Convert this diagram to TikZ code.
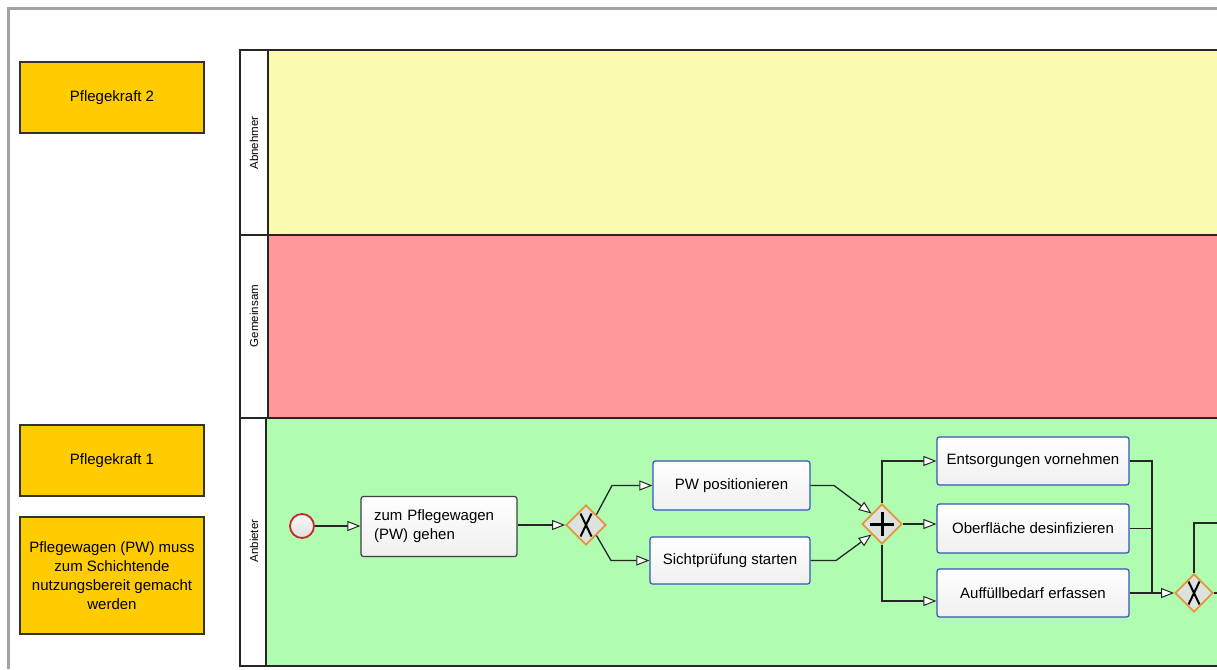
\documentclass[tikz,border=0pt]{standalone}
\usepackage{fontspec}
\setmainfont{Liberation Sans}
\usetikzlibrary{arrows.meta,shapes.geometric,calc}
\definecolor{laneY}{RGB}{250,250,176}
\definecolor{laneR}{RGB}{255,153,153}
\definecolor{laneG}{RGB}{176,252,176}
\definecolor{noteO}{RGB}{255,204,0}
\definecolor{taskB}{RGB}{51,85,187}
\definecolor{gwO}{RGB}{228,150,60}
\definecolor{gwF}{RGB}{222,226,222}
\definecolor{frameG}{RGB}{162,162,162}
\definecolor{startR}{RGB}{200,40,40}
\tikzset{
  lanebox/.style={draw=black!85, line width=1.1pt},
  lanelabel/.style={rotate=90, font=\fontsize{11.5}{13}\selectfont, inner sep=0pt},
  notebox/.style={draw=black!80, line width=1.3pt, fill=noteO, minimum width=184pt, inner sep=0pt, align=center},
  taskbox/.style={draw=taskB, line width=1.2pt, rounded corners=2.5pt, top color=white, bottom color=gray!12, inner sep=0pt, align=center},
  gwbox/.style={diamond, aspect=1, draw=gwO, line width=1.8pt, fill=gwF, minimum width=40pt, minimum height=40pt, inner sep=0pt},
  gwx/.style={gwbox, path picture={
     \draw[black, line width=2pt] ($(path picture bounding box.center)+(-5.5,-11.5)$) .. controls ($(path picture bounding box.center)+(0,0)$) .. ($(path picture bounding box.center)+(5.5,11.5)$);
     \draw[black, line width=2pt] ($(path picture bounding box.center)+(5.5,-11.5)$) .. controls ($(path picture bounding box.center)+(0,0)$) .. ($(path picture bounding box.center)+(-5.5,11.5)$);}},
  gwplus/.style={gwbox, path picture={
     \draw[black, line width=3pt] ($(path picture bounding box.center)+(-12,0)$) -- ($(path picture bounding box.center)+(12,0)$);
     \draw[black, line width=3pt] ($(path picture bounding box.center)+(0,-12)$) -- ($(path picture bounding box.center)+(0,12)$);}},
  startev/.style={circle, draw=startR, line width=1.8pt, top color=gray!5, bottom color=gray!25, minimum size=24pt, inner sep=0pt},
  flow/.style={draw=black!85, line width=1.3pt, -{Triangle[fill=white, length=13pt, width=10pt, line width=1pt]}},
  plainflow/.style={draw=black!85, line width=1.3pt}
}
\begin{document}
\begin{tikzpicture}[x=1pt, y=-1pt, font=\fontsize{15}{19}\selectfont]
\useasboundingbox (0,0) rectangle (1217,669);
\fill[white] (0,0) rectangle (1217,669);
% frame
\draw[frameG, line width=2.7pt] (8.7,669) -- (8.7,8.7) -- (1217,8.7);
% lanes
\fill[laneY] (268,50) rectangle (1217,235);
\fill[laneR] (268,235) rectangle (1217,418);
\fill[laneG] (266,418) rectangle (1217,666);
\draw[lanebox] (1217,50) -- (240,50) -- (240,666) -- (1217,666);
\draw[lanebox] (240,235) -- (1217,235);
\draw[lanebox] (240,418) -- (1217,418);
\draw[lanebox] (268,50) -- (268,418);
\draw[lanebox] (266,418) -- (266,666);
\node[lanelabel] (lA) at (254,143) {Abnehmer};
\node[lanelabel] (lG) at (254,316) {Gemeinsam};
\node[lanelabel] (lB) at (254,541) {Anbieter};
% notes
\node[notebox, minimum height=71pt] (n1) at (112,97.5) {Pflegekraft 2};
\node[notebox, minimum height=71pt] (n2) at (112,460.5) {Pflegekraft 1};
\node[notebox, minimum height=117pt] (n3) at (112,575.5) {Pflegewagen (PW) muss\\zum Schichtende\\nutzungsbereit gemacht\\werden};
% process
\node[startev] (s) at (302,526) {};
\node[taskbox, draw=black!75, text width=130pt, align=left, minimum width=156pt, minimum height=60pt] (t1) at (439,526.5) {zum Pflegewagen\\(PW) gehen};
\node[gwx] (g1) at (586,525) {};
\node[taskbox, minimum width=157pt, minimum height=49pt] (t2) at (731.5,485.5) {PW positionieren};
\node[taskbox, minimum width=160pt, minimum height=47pt] (t3) at (730,560.5) {Sichtprüfung starten};
\node[gwplus] (g2) at (882,524) {};
\node[taskbox, minimum width=192pt, minimum height=48pt] (t4) at (1033,461) {Entsorgungen vornehmen};
\node[taskbox, minimum width=192pt, minimum height=49pt] (t5) at (1033,528.5) {Oberfläche desinfizieren};
\node[taskbox, minimum width=192pt, minimum height=48pt] (t6) at (1033,593) {Auffüllbedarf erfassen};
\node[gwx, minimum width=38pt, minimum height=38pt] (g3) at (1194,593) {};
% bend points
\coordinate (b1) at (612,485.5);
\coordinate (b2) at (611,560.5);
\coordinate (b3) at (834,485.5);
\coordinate (b4) at (836,560.5);
\coordinate (m) at (1152,593);
\coordinate (e1) at (1217,523);
\coordinate (e2) at (1217,593);
% connectors
\draw[flow] (s.east) -- (s.east -| t1.west);
\draw[flow] (g1.west -| t1.east) -- (g1.west);
\draw[flow] (g1.north east) -- (b1) -- (t2.west);
\draw[flow] (g1.south east) -- (b2) -- (t3.west);
\draw[flow] (t2.east) -- (b3) -- (g2.north west);
\draw[flow] (t3.east) -- (b4) -- (g2.south west);
\draw[flow] (g2.north) |- (t4.west);
\draw[flow] (g2.east) -- (g2.east -| t5.west);
\draw[flow] (g2.south) |- ($(t6.west)+(0,8)$);
\draw[plainflow] (t4.east) -| (m);
\draw[plainflow] (t5.east) -- (t5.east -| m);
\draw[flow] (t6.east) -- (g3.west);
\draw[plainflow] (g3.north) |- (e1);
\draw[plainflow] (g3.east) -- (e2);
\end{tikzpicture}
\end{document}
